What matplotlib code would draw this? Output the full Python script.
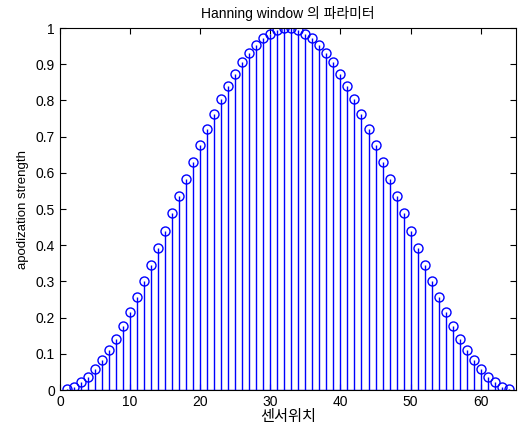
import numpy as np
import matplotlib
matplotlib.use("Agg")
import matplotlib.pyplot as plt

plt.rcParams['font.family'] = ['Liberation Sans', 'Noto Sans CJK KR', 'DejaVu Sans']

# 센서 위치 1..64, Hanning window 값 (그림에서 읽음, 대칭)
sensor = list(range(1, 65))
half = [0.002, 0.009, 0.021, 0.037, 0.057, 0.082, 0.110, 0.142,
        0.178, 0.216, 0.257, 0.300, 0.345, 0.392, 0.440, 0.488,
        0.536, 0.584, 0.631, 0.677, 0.722, 0.764, 0.804, 0.840,
        0.874, 0.905, 0.931, 0.953, 0.972, 0.985, 0.995, 0.999]
strength = half + half[::-1]

xticks = [0, 10, 20, 30, 40, 50, 60]
yticks = [0, 0.1, 0.2, 0.3, 0.4, 0.5, 0.6, 0.7, 0.8, 0.9, 1]
yticklabels = ["0", "0.1", "0.2", "0.3", "0.4", "0.5", "0.6", "0.7", "0.8", "0.9", "1"]

fig = plt.figure(figsize=(5.21, 4.32), dpi=100)
ax = fig.add_axes([0.115, 0.097, 0.875, 0.838])

ml, sl, bl = ax.stem(sensor, strength, linefmt="b-", markerfmt="bo", basefmt="b-")
plt.setp(sl, linewidth=1.0)
plt.setp(ml, markerfacecolor="none", markeredgecolor="b", markersize=6.5, markeredgewidth=1.0)
plt.setp(bl, linewidth=1.0)

ax.set_xlim(0, 65)
ax.set_ylim(0, 1)
ax.set_xticks(xticks)
ax.set_yticks(yticks)
ax.set_yticklabels(yticklabels)
ax.tick_params(direction="in", top=True, right=True, labelsize=10, length=4)
for s in ax.spines.values():
    s.set_linewidth(0.8)

ax.set_title("Hanning window 의 파라미터", fontsize=10, pad=7)
ax.set_xlabel("센서위치", fontsize=11, labelpad=1)
ax.set_ylabel("apodization strength", fontsize=9.5, labelpad=5)

plt.savefig("out.png", dpi=100)
